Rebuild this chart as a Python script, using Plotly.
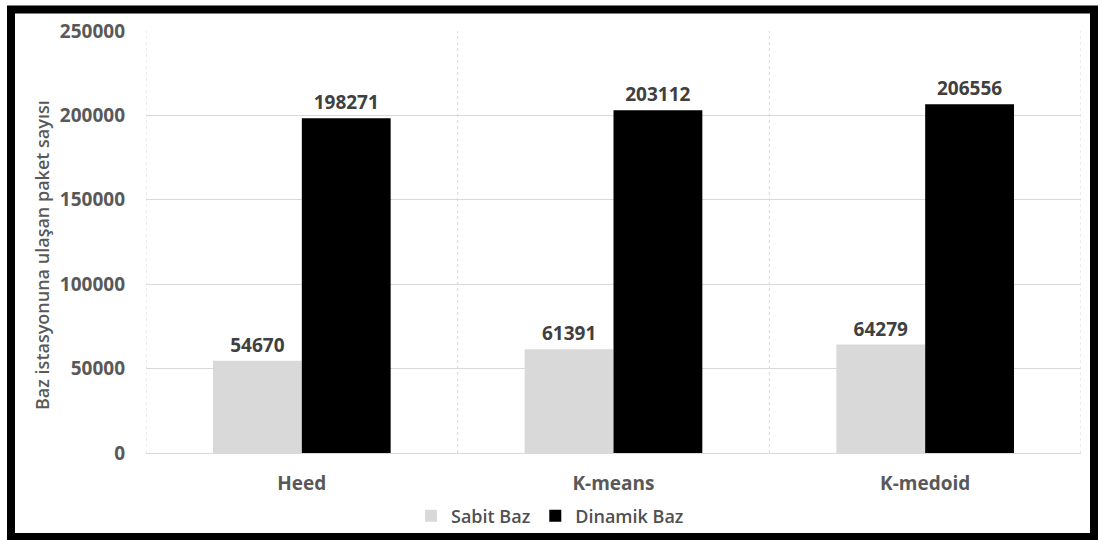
import plotly.graph_objects as go

# Packets delivered to the base station per clustering algorithm
categories = ["Heed", "K-means", "K-medoid"]
sabit_baz = [54670, 61391, 64279]
dinamik_baz = [198271, 203112, 206556]
y_ticks = [0, 50000, 100000, 150000, 200000, 250000]

W, H = 1103, 540
L, R, T, B = 146, 22, 31, 87
plot_w = W - L - R
plot_h = H - T - B


def px_x(p):
    return (p - L) / plot_w


def px_y(p):
    return (H - B - p) / plot_h


label_font = dict(family="Open Sans", size=19, color="#404040", weight="bold")
tick_font = dict(family="Open Sans", size=19, color="#595959", weight="bold")

fig = go.Figure()
fig.add_trace(go.Bar(
    name="Sabit Baz", x=categories, y=sabit_baz,
    marker=dict(color="#d9d9d9", line=dict(width=0)),
    text=[str(v) for v in sabit_baz], textposition="outside",
    textfont=label_font, cliponaxis=False,
))
fig.add_trace(go.Bar(
    name="Dinamik Baz", x=categories, y=dinamik_baz,
    marker=dict(color="#000000", line=dict(width=0)),
    text=[str(v) for v in dinamik_baz], textposition="outside",
    textfont=label_font, cliponaxis=False,
))

shapes = []
# vertical dashed separators between categories
for xv in [-0.5, 0.5, 1.5, 2.5]:
    shapes.append(dict(type="line", xref="x", yref="y", x0=xv, x1=xv,
                       y0=0, y1=250000, layer="below",
                       line=dict(color="#d9d9d9", width=1, dash="dot")))
# thick black frame around the whole figure
shapes.append(dict(type="rect", xref="paper", yref="paper",
                   x0=px_x(11), x1=px_x(1094), y0=px_y(9.5), y1=px_y(537),
                   line=dict(color="#000000", width=8), fillcolor="rgba(0,0,0,0)"))

fig.update_layout(
    width=W, height=H,
    margin=dict(l=L, r=R, t=T, b=B, autoexpand=False),
    paper_bgcolor="white", plot_bgcolor="white",
    barmode="group", bargap=0.43, bargroupgap=0,
    showlegend=True,
    legend=dict(orientation="h", x=px_x(550), y=px_y(516),
                xanchor="center", yanchor="middle",
                bgcolor="rgba(0,0,0,0)",
                font=dict(family="Open Sans", size=18, color="#505050", weight=600),
                itemwidth=30, traceorder="normal"),
    font=dict(family="Open Sans", color="#595959"),
    shapes=shapes,
    xaxis=dict(
        range=[-0.5, 2.5], showgrid=False, showline=False, zeroline=False,
        ticks="", ticklabelstandoff=17, tickfont=tick_font,
    ),
    yaxis=dict(
        range=[0, 250000], tickvals=y_ticks, ticktext=[str(v) for v in y_ticks],
        showgrid=True, gridcolor="#d9d9d9", gridwidth=1,
        zeroline=True, zerolinecolor="#d9d9d9", zerolinewidth=1,
        showline=False, ticks="", ticklabelstandoff=20, tickfont=tick_font,
    ),
    annotations=[dict(
        text="Baz istasyonuna ulaşan paket sayısı",
        xref="paper", yref="paper", x=px_x(42), y=px_y(255),
        xanchor="center", yanchor="middle", textangle=-90, showarrow=False,
        font=dict(family="Open Sans", size=18, color="#595959", weight=600),
    )],
)

fig.write_html("out.html")
